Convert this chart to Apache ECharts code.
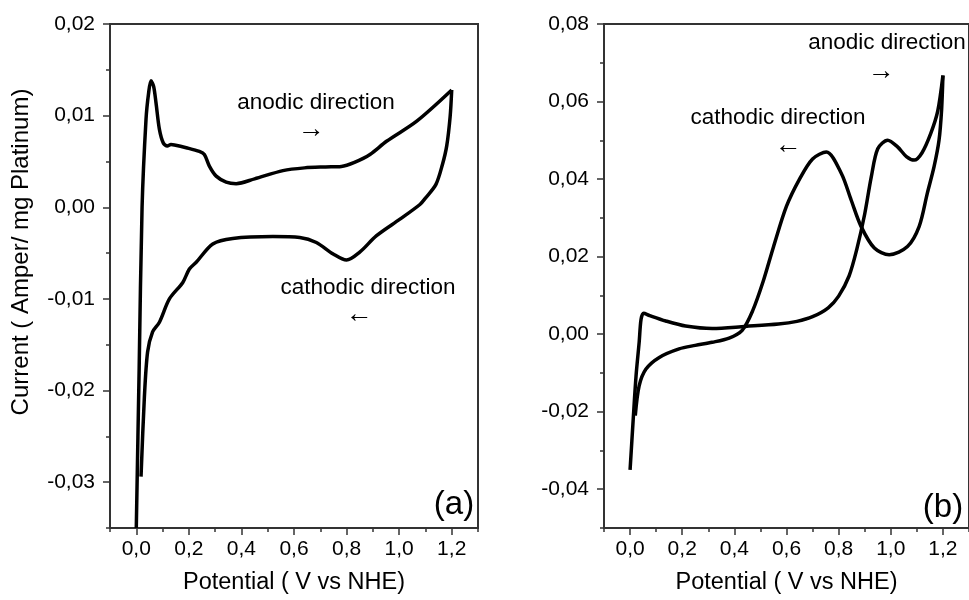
<!DOCTYPE html>
<html>
<head>
<meta charset="utf-8">
<script src="https://cdn.jsdelivr.net/npm/echarts@6/dist/echarts.min.js"></script>
<style>html,body{margin:0;padding:0;background:#fff}#c{width:969px;height:600px}</style>
</head>
<body>
<div id="c"></div>
<script>
// ---- data ----
const xMajor = [0.0, 0.2, 0.4, 0.6, 0.8, 1.0, 1.2];
const xMinor = [-0.1, 0.1, 0.3, 0.5, 0.7, 0.9, 1.1, 1.3];
const xTickLabels = ['0,0', '0,2', '0,4', '0,6', '0,8', '1,0', '1,2'];

const leftYMajor = [-0.03, -0.02, -0.01, 0.0, 0.01, 0.02];
const leftYMinor = [-0.035, -0.025, -0.015, -0.005, 0.005, 0.015];
const leftYTickLabels = ['-0,03', '-0,02', '-0,01', '0,00', '0,01', '0,02'];

const rightYMajor = [-0.04, -0.02, 0.0, 0.02, 0.04, 0.06, 0.08];
const rightYMinor = [-0.05, -0.03, -0.01, 0.01, 0.03, 0.05, 0.07];
const rightYTickLabels = ['-0,04', '-0,02', '0,00', '0,02', '0,04', '0,06', '0,08'];

// panel (a)
const aAnodicV = [0.000, 0.011, 0.022, 0.037, 0.047, 0.056, 0.066, 0.075, 0.088, 0.103, 0.118, 0.132, 0.145, 0.19, 0.24, 0.259, 0.278, 0.304, 0.342, 0.38, 0.45, 0.558, 0.64, 0.72, 0.78, 0.83, 0.889, 0.952, 1.067, 1.2];
const aAnodicI = [-0.035, -0.0175, 0.000, 0.0096, 0.0125, 0.0138, 0.0132, 0.0114, 0.0085, 0.0070, 0.0067, 0.00685, 0.0068, 0.0065, 0.0061, 0.00576, 0.0045, 0.0034, 0.00275, 0.00258, 0.0031, 0.0040, 0.0043, 0.0044, 0.00445, 0.0049, 0.00576, 0.0072, 0.0094, 0.0128];
const aCathodicV = [1.2, 1.194, 1.181, 1.165, 1.14, 1.10, 1.079, 1.003, 0.914, 0.85, 0.80, 0.749, 0.685, 0.622, 0.52, 0.367, 0.291, 0.228, 0.202, 0.177, 0.126, 0.088, 0.062, 0.043, 0.0305, 0.018];
const aCathodicI = [0.0128, 0.0099, 0.0067, 0.0047, 0.0025, 0.0010, 0.0003, -0.0013, -0.0031, -0.0049, -0.00576, -0.0051, -0.00384, -0.0033, -0.0032, -0.0034, -0.0040, -0.0060, -0.00674, -0.0082, -0.0100, -0.01254, -0.0136, -0.0158, -0.0209, -0.0294];

// panel (b)
const bAnodicV = [0.000, 0.012, 0.023, 0.035, 0.042, 0.052, 0.075, 0.137, 0.213, 0.315, 0.442, 0.569, 0.64, 0.70, 0.76, 0.80, 0.84, 0.87, 0.90, 0.925, 0.95, 0.988, 1.026, 1.06, 1.09, 1.12, 1.153, 1.18, 1.2];
const bAnodicI = [-0.035, -0.022, -0.0107, -0.002, 0.0038, 0.0054, 0.0048, 0.0034, 0.0021, 0.00146, 0.0020, 0.0026, 0.0033, 0.0045, 0.0068, 0.0098, 0.0150, 0.0220, 0.0310, 0.0405, 0.0478, 0.050, 0.0483, 0.0458, 0.0449, 0.0468, 0.0517, 0.0575, 0.0667];
const bCathodicV = [1.2, 1.195, 1.185, 1.166, 1.14, 1.109, 1.064, 0.994, 0.937, 0.886, 0.848, 0.81, 0.753, 0.70, 0.65, 0.60, 0.55, 0.51, 0.47, 0.43, 0.38, 0.315, 0.25, 0.188, 0.112, 0.061, 0.035, 0.020];
const bCathodicI = [0.0667, 0.058, 0.050, 0.0432, 0.0363, 0.0278, 0.0226, 0.0205, 0.0222, 0.0278, 0.0346, 0.0415, 0.047, 0.0452, 0.0400, 0.0330, 0.0225, 0.0135, 0.0060, 0.0010, -0.0010, -0.0021, -0.0029, -0.0038, -0.006, -0.009, -0.0133, -0.021];

// ---- chart ----
const FONT = "'Liberation Sans', Arial, sans-serif";
const AXC = '#333';
function zip(a, b) { return a.map((v, i) => [v, b[i]]); }
function lookup(vals, labels) {
  return function (v) {
    for (let i = 0; i < vals.length; i++) if (Math.abs(vals[i] - v) < 1e-9) return labels[i];
    return '';
  };
}

function xAxes(grid) {
  return [
    {
      type: 'value', gridIndex: grid, min: -0.1, max: 1.3, position: 'bottom',
      name: 'Potential ( V vs NHE)', nameLocation: 'middle', nameGap: 43,
      nameTextStyle: { fontFamily: FONT, fontSize: 23.5, color: '#000' },
      axisLine: { show: true, onZero: false, lineStyle: { color: AXC, width: 2 } },
      axisTick: { show: true, inside: false, length: 7, customValues: xMajor, lineStyle: { color: AXC, width: 1.5 } },
      axisLabel: { show: true, margin: 11, customValues: xMajor, formatter: lookup(xMajor, xTickLabels), fontFamily: FONT, fontSize: 21, color: '#000' },
      splitLine: { show: false }
    },
    {
      type: 'value', gridIndex: grid, min: -0.1, max: 1.3, position: 'bottom',
      axisLine: { show: false, onZero: false },
      axisTick: { show: true, inside: false, length: 4, customValues: xMinor, lineStyle: { color: AXC, width: 1.5 } },
      axisLabel: { show: false },
      splitLine: { show: false }
    }
  ];
}
function yAxes(grid, min, max, major, minor, labels) {
  return [
    {
      type: 'value', gridIndex: grid, min: min, max: max, position: 'left',
      axisLine: { show: true, onZero: false, lineStyle: { color: AXC, width: 2 } },
      axisTick: { show: true, inside: false, length: 7, customValues: major, lineStyle: { color: AXC, width: 1.5 } },
      axisLabel: { show: true, margin: 15, customValues: major, formatter: lookup(major, labels), fontFamily: FONT, fontSize: 21, color: '#000' },
      splitLine: { show: false }
    },
    {
      type: 'value', gridIndex: grid, min: min, max: max, position: 'left',
      axisLine: { show: false, onZero: false },
      axisTick: { show: true, inside: false, length: 4, customValues: minor, lineStyle: { color: AXC, width: 1.5 } },
      axisLabel: { show: false },
      splitLine: { show: false }
    }
  ];
}
function curve(xi, yi, v, i) {
  return {
    type: 'line', xAxisIndex: xi, yAxisIndex: yi, data: zip(v, i),
    showSymbol: false, symbol: 'none', smooth: 0.3, clip: true,
    lineStyle: { color: '#000', width: 3.5, join: 'round', cap: 'butt' }
  };
}

const chart = echarts.init(document.getElementById('c'), null, { renderer: 'canvas' });
const text = (t, x, y, size, extra) => Object.assign({
  type: 'text', x: x, y: y, silent: true,
  style: { text: t, fontFamily: FONT, fontSize: size, fill: '#000', align: 'center', verticalAlign: 'middle' }
}, extra || {});

chart.setOption({
  animation: false,
  backgroundColor: '#fff',
  grid: [
    { left: 110, top: 24, width: 368, height: 506, show: true, borderColor: AXC, borderWidth: 2, backgroundColor: 'transparent' },
    { left: 604, top: 24, width: 368, height: 506, show: true, borderColor: AXC, borderWidth: 2, backgroundColor: 'transparent' }
  ],
  xAxis: [].concat(xAxes(0), xAxes(1)),
  yAxis: [].concat(
    yAxes(0, -0.035, 0.02, leftYMajor, leftYMinor, leftYTickLabels),
    yAxes(1, -0.05, 0.08, rightYMajor, rightYMinor, rightYTickLabels)
  ),
  series: [
    curve(0, 0, aAnodicV, aAnodicI),
    curve(0, 0, aCathodicV, aCathodicI),
    curve(2, 2, bAnodicV, bAnodicI),
    curve(2, 2, bCathodicV, bCathodicI)
  ],
  graphic: [
    text('Current ( Amper/ mg Platinum)', 21, 252, 24, { rotation: Math.PI / 2 }),
    text('anodic direction', 316, 103, 22.5),
    text('\u2192', 311, 130, 27),
    text('cathodic direction', 368, 288, 22.5),
    text('\u2190', 359, 315, 27),
    text('(a)', 454, 505, 33),
    text('anodic direction', 887, 43, 22.5),
    text('\u2192', 881, 72, 27),
    text('cathodic direction', 778, 118, 22.5),
    text('\u2190', 788, 146, 27),
    text('(b)', 943, 508, 33)
  ]
});
</script>
</body>
</html>
